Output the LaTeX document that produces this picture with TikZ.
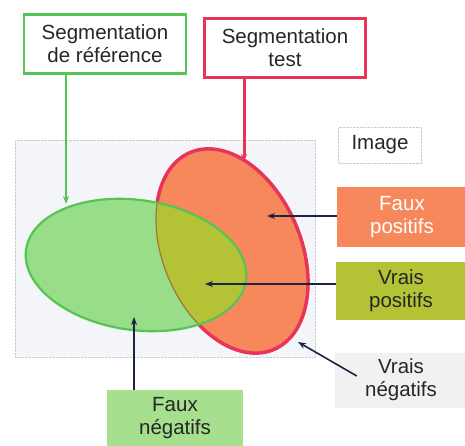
\documentclass[tikz,border=0pt]{standalone}
\usepackage{fontspec}
\setmainfont{Liberation Sans}
\usetikzlibrary{arrows.meta}

\definecolor{vertref}{HTML}{55C455}
\definecolor{rougetest}{HTML}{E8335A}
\definecolor{orangefp}{HTML}{F7885B}
\definecolor{olivevp}{HTML}{B4C236}
\definecolor{bordinter}{HTML}{A0763A}
\definecolor{vertzone}{HTML}{98DE88}
\definecolor{vertfn}{HTML}{A6E08E}
\definecolor{grisvn}{HTML}{F1F1F1}
\definecolor{fondimg}{HTML}{F4F5F8}
\definecolor{cadreimg}{HTML}{C5CADD}
\definecolor{fleche}{HTML}{1C2444}

\begin{document}
\begin{tikzpicture}[x=1pt, y=-1pt, >={Stealth[length=8pt, width=6pt]},
    txt/.style={font=\fontsize{20.5}{23}\selectfont, align=center, text=black!85, inner sep=0pt},
    fl/.style={->, fleche, line width=1.6pt}]
    \useasboundingbox (0,0) rectangle (465,446);

    % Cadre de l'image
    \draw[cadreimg, densely dotted, fill=fondimg] (15,140) rectangle (315,357);

    % Segmentation test (ellipse rouge)
    \fill[orangefp, rotate around={-67:(232,251)}] (232,251) ellipse [x radius=107, y radius=69];
    \draw[rougetest, line width=3.5pt, rotate around={-67:(232,251)}] (232,251) ellipse [x radius=107, y radius=69];

    % Segmentation de reference (ellipse verte)
    \fill[vertzone, rotate around={-8:(136,265)}] (136,265) ellipse [x radius=111, y radius=65];

    % Zone commune
    \begin{scope}
        \clip[rotate around={-8:(136,265)}] (136,265) ellipse [x radius=111, y radius=65];
        \fill[olivevp, rotate around={-67:(232,251)}] (232,251) ellipse [x radius=107, y radius=69];
        \draw[bordinter, line width=1.2pt, rotate around={-67:(232,251)}] (232,251) ellipse [x radius=107, y radius=69];
    \end{scope}
    \draw[vertref, line width=2.2pt, rotate around={-8:(136,265)}] (136,265) ellipse [x radius=111, y radius=65];

    % Boites du haut
    \node[txt, draw=vertref, line width=2.5pt, minimum width=162pt, minimum height=59pt] (ref) at (105,44) {Segmentation\\de référence};
    \node[txt, draw=rougetest, line width=3.5pt, minimum width=161pt, minimum height=59pt] (test) at (285,48) {Segmentation\\test};
    \node[txt, draw=cadreimg, densely dotted, fill=white, minimum width=83pt, minimum height=36pt] (img) at (380,145) {Image};

    % Legende
    \node[txt, fill=orangefp, text=white, minimum width=130pt, minimum height=60pt] (fp) at (402,217) {Faux\\positifs};
    \node[txt, fill=olivevp, minimum width=130pt, minimum height=58pt] (vp) at (401,291) {Vrais\\positifs};
    \node[txt, fill=grisvn, minimum width=132pt, minimum height=55pt] (vn) at (401,380) {Vrais\\négatifs};
    \node[txt, fill=vertfn, minimum width=136pt, minimum height=56pt] (fn) at (175,418) {Faux\\négatifs};

    % Points vises
    \coordinate (pointeref) at (66,204);
    \coordinate (pointetest) at (244,162);
    \coordinate (cible-fp) at (267,216);
    \coordinate (cible-vp) at (205,284);
    \coordinate (cible-vn) at (298,342);
    \coordinate (cible-fn) at (134,317);

    % Fleches
    \draw[->, vertref, line width=2pt] (ref.south -| pointeref) -- (pointeref);
    \draw[->, rougetest, line width=3pt] (test.south -| pointetest) -- (pointetest);
    \draw[fl] (fp.west |- cible-fp) -- (cible-fp);
    \draw[fl] (vp.west |- cible-vp) -- (cible-vp);
    \draw[fl] ([xshift=22pt, yshift=4pt]vn.west) -- (cible-vn);
    \draw[fl] (fn.north -| cible-fn) -- (cible-fn);
\end{tikzpicture}
\end{document}
